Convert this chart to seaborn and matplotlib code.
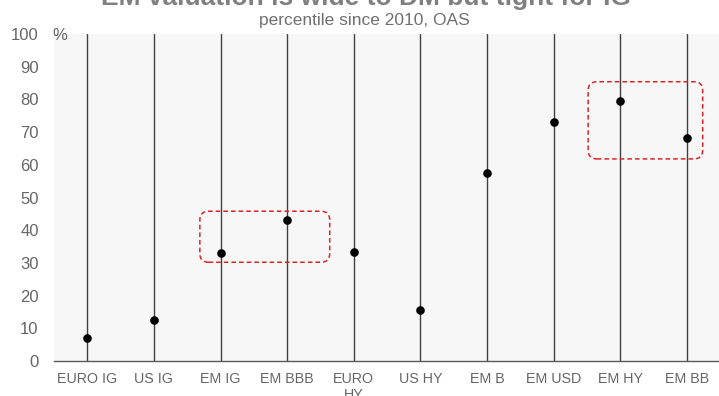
import matplotlib
matplotlib.use("Agg")
import matplotlib.pyplot as plt
from matplotlib.patches import FancyBboxPatch
from matplotlib.ticker import FixedLocator
import numpy as np
import pandas as pd
import seaborn as sns

# Spread percentile by credit segment (since 2010, OAS)
categories = ["EURO IG", "US IG", "EM IG", "EM BBB", "EURO\nHY", "US HY",
              "EM B", "EM USD", "EM HY", "EM BB"]
percentiles = [7.1, 12.6, 33.1, 43.2, 33.4, 15.6, 57.6, 73.2, 79.6, 68.3]
y_ticks = [0, 10, 20, 30, 40, 50, 60, 70, 80, 90, 100]

# Highlighted groups (category span and value range of each dashed frame)
box_x0 = [1.69, 7.52]
box_x1 = [3.64, 9.24]
box_y0 = [30.2, 61.8]
box_y1 = [45.8, 85.4]

df = pd.DataFrame({"segment": categories, "pct": percentiles})

sns.set_theme(style="white")
plt.rcParams["font.family"] = ["Liberation Sans", "DejaVu Sans"]

W, H, DPI = 719, 396, 100
fig = plt.figure(figsize=(W / DPI, H / DPI), dpi=DPI)
ax = fig.add_axes([54 / W, 1 - 361 / H, 666 / W, 327 / H])
ax.set_facecolor("#f7f7f7")

sns.stripplot(data=df, x="segment", y="pct", jitter=False, color="black",
              size=6.2, linewidth=0, ax=ax, zorder=4)

ax.set_xlim(-0.5, len(categories) - 0.5)
ax.set_ylim(0, 100)
ax.set_xlabel("")
ax.set_ylabel("")

# category lines through each segment
ax.xaxis.grid(True, which="major", color="#404040", linewidth=1.0)
ax.yaxis.grid(False)
ax.set_axisbelow(True)

ax.set_yticks(y_ticks)
ax.tick_params(axis="y", length=0, pad=11, labelsize=12, labelcolor="#666666")
ax.tick_params(axis="x", which="major", length=0, pad=8, labelsize=10.3,
               labelcolor="#666666")
ax.xaxis.set_minor_locator(FixedLocator(np.arange(-0.5, len(categories), 1.0)))
ax.tick_params(axis="x", which="minor", length=3.5, width=1.0,
               color="#595959", direction="out")

for s in ["left", "right", "top"]:
    ax.spines[s].set_visible(False)
ax.spines["bottom"].set_color("#595959")
ax.spines["bottom"].set_linewidth(1.0)

# dashed rounded frames around the highlighted groups
fig.canvas.draw()
p0 = ax.transData.transform((0, 0))
p1 = ax.transData.transform((1, 1))
aspect = (p1[0] - p0[0]) / (p1[1] - p0[1])
for x0, x1, y0, y1 in zip(box_x0, box_x1, box_y0, box_y1):
    patch = FancyBboxPatch((x0, y0), x1 - x0, y1 - y0,
                           boxstyle="round,pad=0,rounding_size=0.13",
                           mutation_aspect=aspect, fill=False,
                           edgecolor="#d7262b", linewidth=1.1,
                           linestyle=(0, (3, 2)), zorder=5)
    ax.add_patch(patch)

fig.text(52 / W, 1 - 35 / H, "%", ha="left", va="center", fontsize=12,
         color="#666666")
fig.text(366 / W, 1 - 5.5 / H, "EM valuation is wide to DM but tight for IG",
         ha="center", va="baseline", fontsize=19, fontweight="bold",
         color="#7f7f7f")
fig.text(364 / W, 1 - 25.5 / H, "percentile since 2010, OAS", ha="center",
         va="baseline", fontsize=12.5, color="#707070")

fig.savefig("out.png", dpi=DPI)
